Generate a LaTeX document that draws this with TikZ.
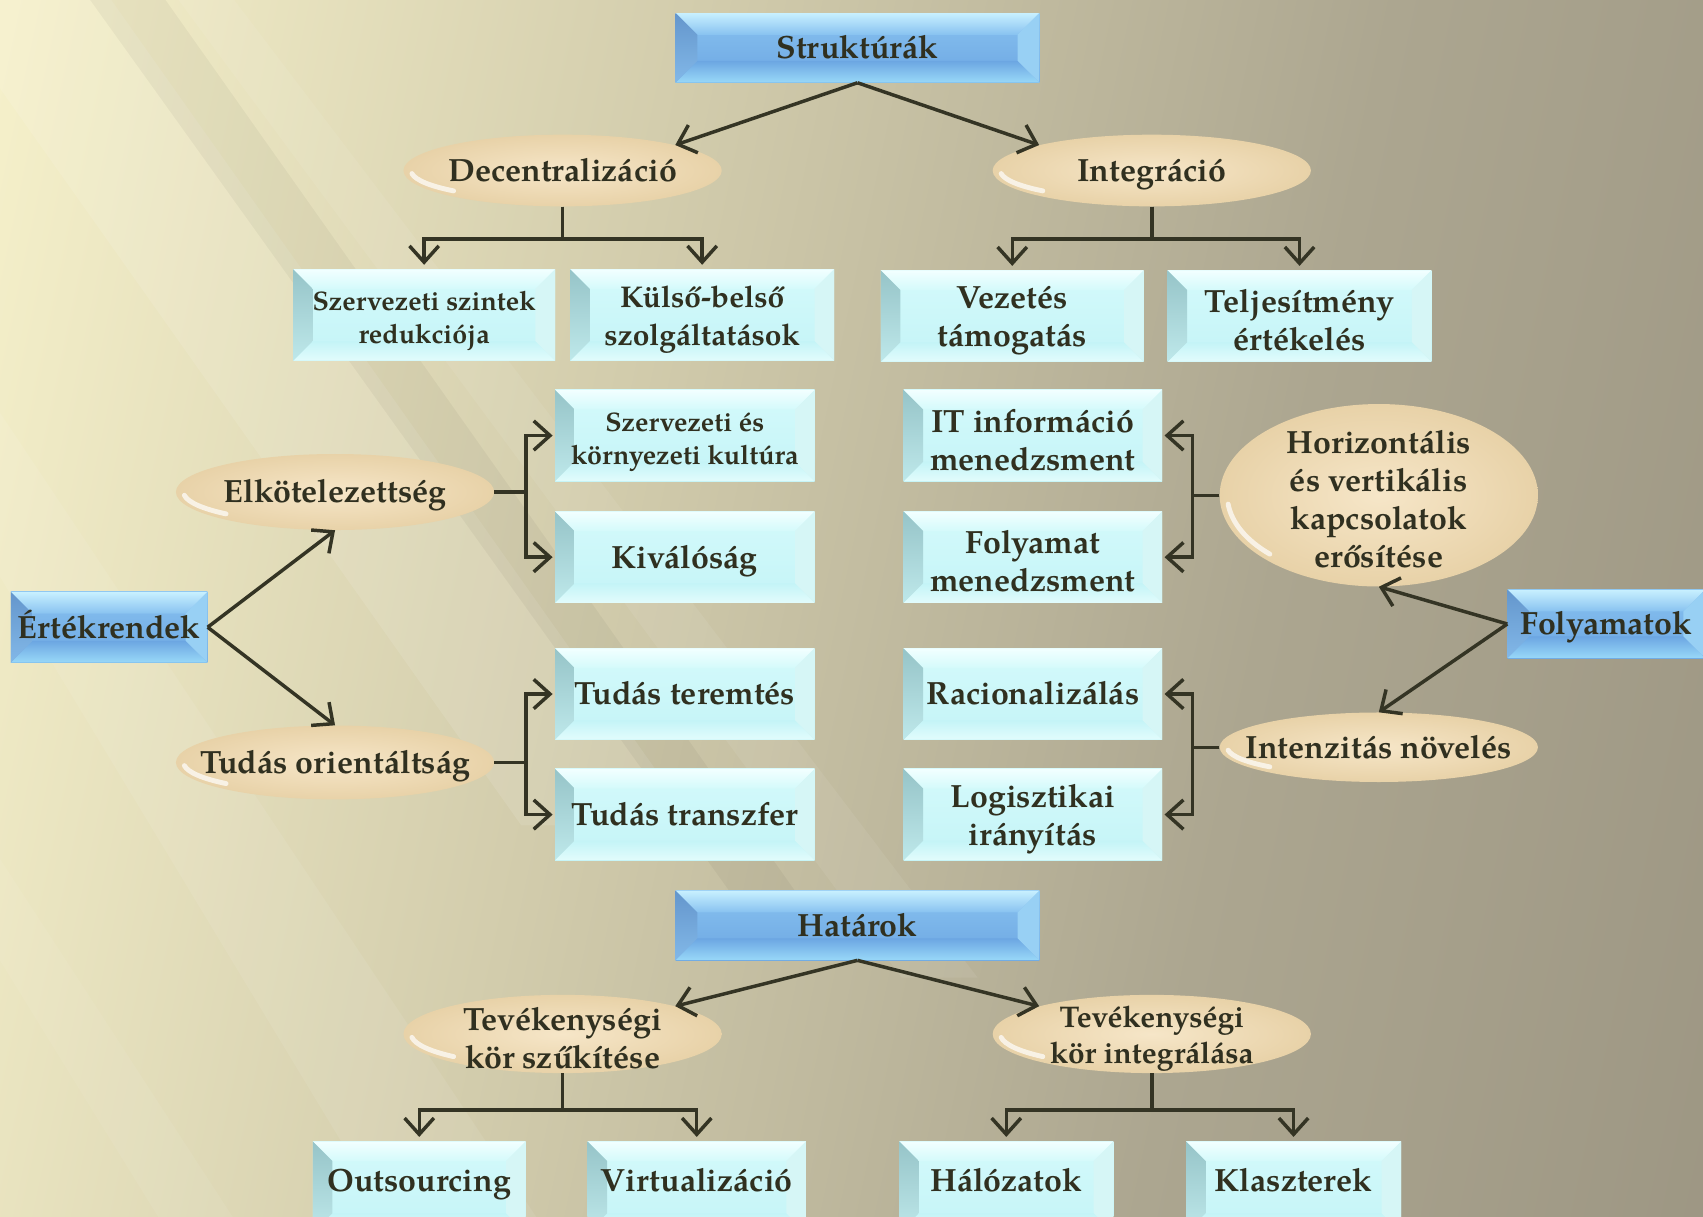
\documentclass[tikz,border=0pt]{standalone}
\usepackage{fontspec}
\setmainfont{TeX Gyre Pagella}
\usetikzlibrary{shapes.geometric,arrows.meta,calc}

% palette
\definecolor{ink}{RGB}{48,48,32}
\definecolor{wire}{RGB}{52,52,36}
\definecolor{bgA}{RGB}{245,240,202}
\definecolor{bgB}{RGB}{210,204,172}
\definecolor{bgC}{RGB}{172,166,144}
\definecolor{bgD}{RGB}{138,131,115}
% blue header boxes
\definecolor{hFaceT}{RGB}{136,194,240}
\definecolor{hFaceB}{RGB}{108,166,226}
\definecolor{hTop}{RGB}{200,240,255}
\definecolor{hBot}{RGB}{152,216,248}
\definecolor{hLeftT}{RGB}{100,150,204}
\definecolor{hLeftB}{RGB}{130,184,232}
\definecolor{hRight}{RGB}{152,208,244}
% cyan leaf boxes
\definecolor{cFaceT}{RGB}{212,250,251}
\definecolor{cFaceB}{RGB}{196,244,247}
\definecolor{cTop}{RGB}{242,255,255}
\definecolor{cBot}{RGB}{226,252,252}
\definecolor{cLeftT}{RGB}{150,196,200}
\definecolor{cLeftB}{RGB}{190,232,234}
\definecolor{cRight}{RGB}{214,246,246}
% beige ellipses
\definecolor{eIn}{RGB}{246,230,200}
\definecolor{eOut}{RGB}{232,210,168}

\pgfdeclarehorizontalshading{bgshade}{100bp}{color(0bp)=(bgA); color(22bp)=(bgA); color(42bp)=(bgB); color(62bp)=(bgC); color(100bp)=(bgD)}

% bevelled face inside a rectangle node: #1 bevel depth, #2..#8 colours
\newcommand\bevelfill[8]{%
  \coordinate (bNW) at (path picture bounding box.north west);
  \coordinate (bNE) at (path picture bounding box.north east);
  \coordinate (bSW) at (path picture bounding box.south west);
  \coordinate (bSE) at (path picture bounding box.south east);
  \shade[top color=#2, bottom color=#3] (bNW) rectangle (bSE);
  \shade[top color=#4, bottom color=#2] (bNW) -- (bNE) -- ($(bNE)+(-#1,#1)$) -- ($(bNW)+(#1,#1)$) -- cycle;
  \shade[top color=#3, bottom color=#5] (bSW) -- (bSE) -- ($(bSE)+(-#1,-#1)$) -- ($(bSW)+(#1,-#1)$) -- cycle;
  \shade[top color=#6, bottom color=#7] (bNW) -- ($(bNW)+(#1,#1)$) -- ($(bSW)+(#1,-#1)$) -- (bSW) -- cycle;
  \fill[#8] (bNE) -- ($(bNE)+(-#1,#1)$) -- ($(bSE)+(-#1,-#1)$) -- (bSE) -- cycle;
}
% extra head room on the first line of a two-line label
\newcommand\toppad{\rule{0pt}{29pt}}

\tikzset{
  lbl/.style={font=\fontsize{29.6}{35}\selectfont\bfseries, text=ink, align=center},
  small/.style={font=\fontsize{24.7}{30}\selectfont\bfseries},
  one/.style={text height=26pt, text depth=6pt},
  hdr/.style 2 args={lbl, one, rectangle, inner sep=0pt, minimum width=#1, minimum height=#2,
    path picture={\bevelfill{20}{hFaceT}{hFaceB}{hTop}{hBot}{hLeftT}{hLeftB}{hRight}}},
  leaf/.style 2 args={lbl, rectangle, inner sep=0pt, minimum width=#1, minimum height=#2,
    path picture={\bevelfill{18}{cFaceT}{cFaceB}{cTop}{cBot}{cLeftT}{cLeftB}{cRight}}},
  oval/.style 2 args={lbl, ellipse, inner xsep=-60pt, inner ysep=-40pt,
    minimum width=#1, minimum height=#2, inner color=eIn, outer color=eOut,
    path picture={\draw[white, opacity=.7, line width=4.5pt, line cap=round]
      ([shift={(186:{#1/2-7} and {#2/2-6})}]path picture bounding box.center)
      arc[start angle=186, end angle=224, x radius={#1/2-7}, y radius={#2/2-6}];}},
  wireline/.style={draw=wire, line width=3.2pt},
  arr/.style={wireline, -{Straight Barb[length=15pt, width=27pt]}},
}

\begin{document}
\begin{tikzpicture}[x=1pt, y=-1pt]
\useasboundingbox (0,0) rectangle (1568,1120);
\begin{scope}
\clip (0,0) rectangle (1568,1120);
% backdrop with soft light rays
\shade[shading=bgshade, shading angle=-12] (-40,-40) rectangle (1608,1160);
\fill[white, opacity=.10] (-100,-60) -- (60,-60) -- (640,760) -- (480,760) -- cycle;
\fill[white, opacity=.08] (-200,200) -- (-120,200) -- (520,1160) -- (380,1160) -- cycle;
\fill[white, opacity=.07] (120,-60) -- (170,-60) -- (900,900) -- (830,900) -- cycle;
\fill[black, opacity=.04] (40,-60) -- (110,-60) -- (760,860) -- (700,860) -- cycle;
\fill[white, opacity=.06] (-200,560) -- (-150,560) -- (240,1160) -- (170,1160) -- cycle;

% header boxes
\node[hdr={335pt}{64pt}] (str) at (789.5,44) {Struktúrák};
\node[hdr={181pt}{65pt}] (ert) at (100.5,577.5) {Értékrendek};
\node[hdr={182pt}{63pt}] (fol) at (1479,574.5) {Folyamatok};
\node[hdr={335pt}{64pt}] (hat) at (789.5,852) {Határok};

% ovals
\node[oval={293pt}{66pt}, one] (dec) at (518,157) {Decentralizáció};
\node[oval={293pt}{66pt}, one] (int) at (1060.5,157) {Integráció};
\node[oval={293pt}{70pt}, one] (elk) at (308.5,453) {Elkötelezettség};
\node[oval={293pt}{68pt}, one] (tor) at (308.5,702) {Tudás orientáltság};
\node[oval={293pt}{168pt}] (hor) at (1269.5,456) {\toppad Horizontális\\és vertikális\\kapcsolatok\\erősítése};
\node[oval={293pt}{64pt}, one] (inn) at (1269.5,688) {Intenzitás növelés};
\node[oval={293pt}{72pt}] (tsz) at (518,952) {\toppad Tevékenységi\\kör szűkítése};
\node[oval={293pt}{72pt}, font=\fontsize{27.5}{33}\selectfont\bfseries] (tin) at (1060.5,952) {\toppad Tevékenységi\\kör integrálása};

% leaf boxes
\node[leaf={241pt}{84pt}, small] (ssz) at (390.5,290) {\toppad Szervezeti szintek\\redukciója};
\node[leaf={243pt}{84pt}, font=\fontsize{27.6}{35}\selectfont\bfseries] (kbs) at (646.5,290) {\toppad Külső-belső\\szolgáltatások};
\node[leaf={242pt}{84pt}] (vez) at (932,291) {\toppad Vezetés\\támogatás};
\node[leaf={243pt}{84pt}] (tel) at (1196.5,291) {\toppad Teljesítmény\\értékelés};
\node[leaf={239pt}{84pt}, small] (kul) at (630.5,401) {\toppad Szervezeti és\\környezeti kultúra};
\node[leaf={239pt}{84pt}, one] (kiv) at (630.5,513) {Kiválóság};
\node[leaf={239pt}{84pt}, one] (tte) at (630.5,639) {Tudás teremtés};
\node[leaf={239pt}{84pt}, one] (ttr) at (630.5,750) {Tudás transzfer};
\node[leaf={238pt}{84pt}] (itm) at (951,401) {\toppad IT információ\\menedzsment};
\node[leaf={238pt}{84pt}] (fme) at (951,513) {\toppad Folyamat\\menedzsment};
\node[leaf={238pt}{84pt}, one] (rac) at (951,639) {Racionalizálás};
\node[leaf={238pt}{84pt}] (lgi) at (951,750) {\toppad Logisztikai\\irányítás};
\tikzset{low/.style={text height=14.5pt, text depth=6pt}}
\node[leaf={196pt}{84pt}, low] (out) at (386,1093) {Outsourcing};
\node[leaf={201pt}{84pt}, low] (vir) at (641.5,1093) {Virtualizáció};
\node[leaf={197pt}{84pt}, low] (hal) at (926.5,1093) {Hálózatok};
\node[leaf={198pt}{84pt}, low] (kla) at (1191,1093) {Klaszterek};

% connectors: top tree
\draw[arr] (str.south) -- (dec.north east);
\draw[arr] (str.south) -- (int.north west);
\draw[arr, shorten >=4pt] (dec.south) -- ++(0,30) -| (ssz.north);
\draw[arr, shorten >=4pt] (dec.south) -- ++(0,30) -| (kbs.north);
\draw[arr, shorten >=4pt] (int.south) -- ++(0,30) -| (vez.north);
\draw[arr, shorten >=4pt] (int.south) -- ++(0,30) -| (tel.north);

% connectors: values
\draw[arr] (ert.east) -- (elk.south);
\draw[arr] (ert.east) -- (tor.north);
\draw[arr, shorten >=2pt] (elk.east) -- ++(29,0) |- (kul.west);
\draw[arr, shorten >=2pt] (elk.east) -- ++(29,0) |- (kiv.west);
\draw[arr, shorten >=2pt] (tor.east) -- ++(29,0) |- (tte.west);
\draw[arr, shorten >=2pt] (tor.east) -- ++(29,0) |- (ttr.west);

% connectors: processes
\draw[arr] (fol.west) -- (hor.south);
\draw[arr] (fol.west) -- (inn.north);
\draw[arr, shorten >=2pt] (hor.west) -- ++(-25,0) |- (itm.east);
\draw[arr, shorten >=2pt] (hor.west) -- ++(-25,0) |- (fme.east);
\draw[arr, shorten >=2pt] (inn.west) -- ++(-25,0) |- (rac.east);
\draw[arr, shorten >=2pt] (inn.west) -- ++(-25,0) |- (lgi.east);

% connectors: boundaries
\draw[arr] (hat.south) -- (tsz.north east);
\draw[arr] (hat.south) -- (tin.north west);
\draw[arr, shorten >=4pt] (tsz.south) -- ++(0,34) -| (out.north);
\draw[arr, shorten >=4pt] (tsz.south) -- ++(0,34) -| (vir.north);
\draw[arr, shorten >=4pt] (tin.south) -- ++(0,34) -| (hal.north);
\draw[arr, shorten >=4pt] (tin.south) -- ++(0,34) -| (kla.north);
\end{scope}
\end{tikzpicture}
\end{document}
